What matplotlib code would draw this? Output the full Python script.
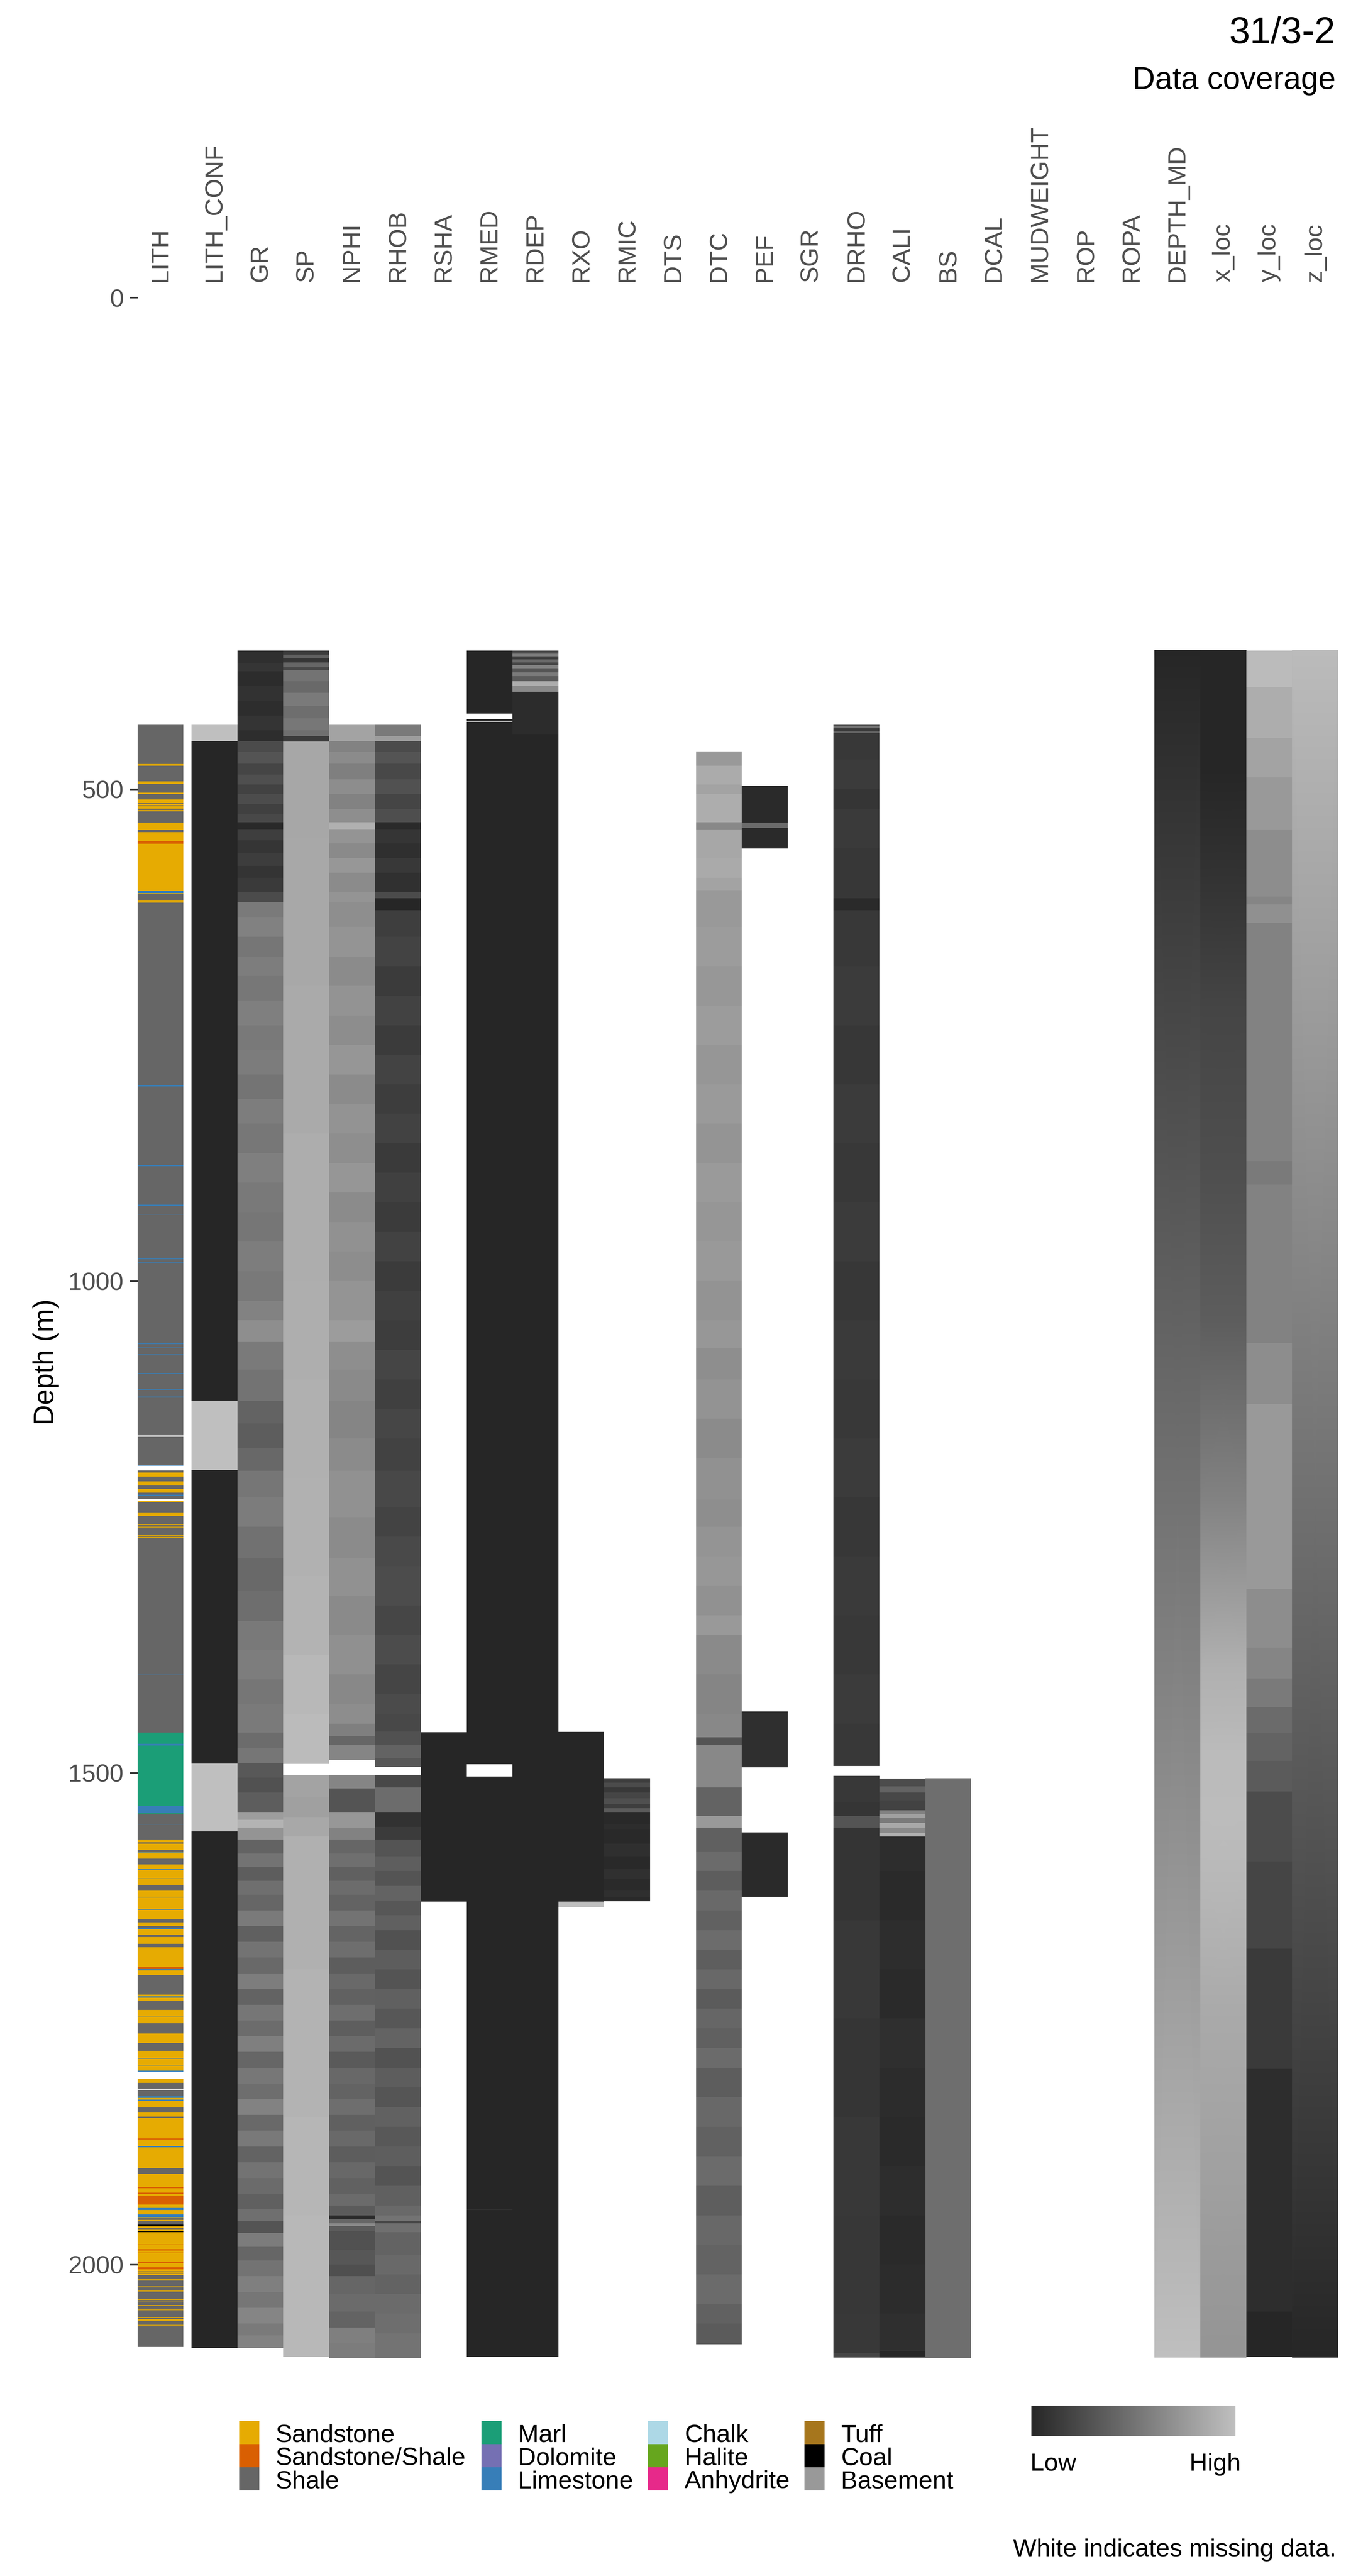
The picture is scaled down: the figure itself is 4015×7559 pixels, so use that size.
import numpy as np
import matplotlib
matplotlib.use("Agg")
import matplotlib.pyplot as plt
from matplotlib.colors import LinearSegmentedColormap, ListedColormap, Normalize
from matplotlib.cm import ScalarMappable
from matplotlib.patches import Rectangle

plt.rcParams['font.family'] = ['Liberation Sans', 'DejaVu Sans']

nan = np.nan
W, H, DPI = 4015, 7559, 300

# ---------------- data ----------------
log_names = ["LITH_CONF", "GR", "SP", "NPHI", "RHOB", "RSHA", "RMED", "RDEP", "RXO",
             "RMIC", "DTS", "DTC", "PEF", "SGR", "DRHO", "CALI", "BS", "DCAL",
             "MUDWEIGHT", "ROP", "ROPA", "DEPTH_MD", "x_loc", "y_loc", "z_loc"]

lith_classes = ["Sandstone", "Sandstone/Shale", "Shale", "Marl", "Dolomite", "Limestone",
                "Chalk", "Halite", "Anhydrite", "Tuff", "Coal", "Basement"]
lith_colors = ["#E6AB02", "#D95F02", "#666666", "#1B9E77", "#7570B3", "#377EB8",
               "#ADD8E6", "#66A61E", "#E7298A", "#A6761D", "#000000", "#999999"]
lith_abbr = {"SS": 0, "SSS": 1, "SH": 2, "MA": 3, "DO": 4, "LS": 5, "CK": 6,
             "HA": 7, "AN": 8, "TU": 9, "CO": 10, "BA": 11, None: nan}

# LITH intervals: (top depth, class); each runs to the next top
lith = [(434.0, "SH"), (474.3, "SS"), (476.1, "SH"), (492.0, "SS"), (494.5, "SH"), (503.6, "SS"),
        (504.7, "SH"), (510.4, "SS"), (514.3, "SH"), (515.0, "SS"), (516.4, "SH"), (517.4, "SS"),
        (519.9, "SH"), (521.3, "SS"), (522.7, "SH"), (534.0, "SS"), (541.1, "SH"), (543.6, "SS"),
        (552.8, "SSS"), (555.6, "SS"), (603.4, "LS"), (605.8, "SS"), (606.9, "SH"), (612.6, "SS"),
        (615.4, "SH"), (801.0, "LS"), (802.0, "SH"), (882.3, "LS"), (883.3, "SH"), (922.5, "LS"),
        (923.5, "SH"), (931.6, "LS"), (932.6, "SH"), (977.2, "LS"), (978.0, "SH"), (980.6, "LS"),
        (981.4, "SH"), (1063.5, "LS"), (1064.3, "SH"), (1067.6, "LS"), (1068.4, "SH"), (1074.6, "LS"),
        (1075.4, "SH"), (1093.7, "LS"), (1094.5, "SH"), (1109.7, "LS"), (1110.5, "SH"), (1117.6, "LS"),
        (1118.4, "SH"), (1157.0, None), (1158.5, "SH"), (1187.0, "LS"), (1188.0, None), (1192.6, "SH"),
        (1194.8, "SS"), (1199.0, "SH"), (1203.8, "SS"), (1207.9, "SH"), (1211.4, "SS"), (1215.2, "SH"),
        (1217.2, "LS"), (1218.6, "SH"), (1221.5, None), (1224.0, "SS"), (1225.0, "SH"), (1235.3, "SS"),
        (1238.7, "SH"), (1247.3, "SS"), (1248.1, "SH"), (1249.8, "SS"), (1250.6, "SH"), (1258.5, "SS"),
        (1259.3, "SH"), (1260.3, "SS"), (1260.9, "SH"), (1400.3, "LS"), (1401.1, "SH"), (1459.0, "MA"),
        (1470.6, "LS"), (1472.3, "MA"), (1533.6, "LS"), (1540.5, "MA"), (1541.5, "SH"), (1552.0, "LS"),
        (1552.8, "SH"), (1567.9, "SS"), (1570.7, "SH"), (1572.1, "SS"), (1578.5, "SH"), (1580.3, "LS"),
        (1581.0, "SS"), (1587.3, "SH"), (1593.4, "SS"), (1598.0, "LS"), (1598.7, "SS"), (1607.5, "LS"),
        (1608.2, "SS"), (1613.9, "SH"), (1619.9, "SS"), (1626.2, "LS"), (1626.9, "SS"), (1638.6, "LS"),
        (1639.3, "SS"), (1649.2, "SH"), (1652.0, "SS"), (1656.0, "SH"), (1658.0, "LS"), (1659.0, "SS"),
        (1665.0, "SH"), (1667.0, "SS"), (1674.0, "SH"), (1677.5, "SS"), (1697.7, "SSS"), (1699.5, "LS"),
        (1700.9, "SS"), (1705.8, "SH"), (1725.6, "SS"), (1727.3, "LS"), (1728.6, "SS"), (1732.3, "SH"),
        (1741.2, "SS"), (1747.0, "LS"), (1747.8, "SS"), (1754.6, "SH"), (1765.2, "SS"), (1774.8, "SH"),
        (1782.9, "SS"), (1790.0, "LS"), (1790.8, "SS"), (1796.9, "LS"), (1797.7, "SS"), (1803.0, "LS"),
        (1804.1, None), (1811.2, "SS"), (1815.4, "SH"), (1821.8, None), (1822.5, "SH"), (1828.8, "LS"),
        (1830.5, "SS"), (1832.5, "LS"), (1833.3, "SS"), (1840.2, "SH"), (1845.5, "SS"), (1849.7, "SH"),
        (1850.7, "SS"), (1872.0, "SSS"), (1873.0, "SS"), (1879.8, "LS"), (1880.8, "SS"), (1902.0, "SH"),
        (1908.0, "SS"), (1921.5, "SSS"), (1922.5, "SS"), (1927.0, "SSS"), (1928.3, "SS"), (1930.4, "SSS"),
        (1939.2, "SS"), (1942.7, "LS"), (1944.5, "SS"), (1949.0, "LS"), (1951.9, "SS"), (1952.9, "SH"),
        (1954.7, "SS"), (1956.0, "SH"), (1959.5, "CO"), (1961.2, "SS"), (1962.6, "SH"), (1964.7, "SS"),
        (1965.7, "CO"), (1967.1, "SS"), (1979.6, "SSS"), (1980.3, "SS"), (1984.5, "SSS"), (1985.8, "SS"),
        (1987.8, "SSS"), (1988.3, "SS"), (1997.7, "SSS"), (1998.7, "SS"), (2002.9, "SSS"), (2003.7, "SS"),
        (2004.0, "SSS"), (2004.8, "SS"), (2007.0, "SH"), (2008.1, "SS"), (2008.9, "SH"), (2009.4, "SS"),
        (2010.8, "SH"), (2015.1, "SS"), (2016.2, "SH"), (2022.2, "SS"), (2023.1, "SH"), (2026.4, "SS"),
        (2027.0, "SH"), (2027.4, "SS"), (2028.1, "SH"), (2035.4, "SS"), (2036.0, "SH"), (2036.7, "SS"),
        (2037.4, "SH"), (2041.3, "SS"), (2041.9, "SH"), (2045.8, "SS"), (2046.4, "SH"), (2053.4, "SS"),
        (2054.1, "SH"), (2055.5, "SS"), (2057.2, "SH"), (2061.4, "SS"), (2062.0, "SH")]
lith_base = 2083.8

# Normalised log values (0 = low, 1 = high); (top depth, value), nan = missing
lith_conf = [(434, 1.0), (451, 0.0), (1121.6, 1.0), (1192.3, 0.0), (1490.8, 1.0), (1559.8, 0.0)]
lith_conf_base = 2085

gr = [(359, 0.06), (372, 0.10), (380, 0.04), (395, 0.08), (410, 0.05), (425, 0.09), (440, 0.05),
      (451, 0.24), (462, 0.30), (474, 0.20), (485, 0.27), (495, 0.18), (505, 0.25), (515, 0.17),
      (525, 0.22), (533.5, 0.02), (540.6, 0.16), (552, 0.10), (565, 0.15), (578, 0.09), (590, 0.13),
      (604.4, 0.24), (615, 0.55), (630, 0.59), (650, 0.52), (670, 0.57), (690, 0.53), (715, 0.58),
      (740, 0.54), (765, 0.56), (790, 0.51), (815, 0.57), (840, 0.53), (870, 0.58), (900, 0.54),
      (930, 0.52), (960, 0.57), (990, 0.54), (1020, 0.60), (1040, 0.68), (1062, 0.55), (1090, 0.50),
      (1122, 0.40), (1145, 0.36), (1170, 0.43), (1193, 0.52), (1220, 0.56), (1250, 0.49), (1282, 0.44),
      (1315, 0.47), (1346, 0.54), (1375, 0.57), (1405, 0.52), (1430, 0.55), (1459, 0.46), (1475, 0.52),
      (1490, 0.33), (1505, 0.28), (1520, 0.36), (1540, 0.78), (1548, 0.92), (1556, 0.72), (1568, 0.40),
      (1582, 0.50), (1596, 0.36), (1610, 0.48), (1624, 0.42), (1640, 0.55), (1656, 0.38), (1672, 0.50),
      (1688, 0.44), (1704, 0.57), (1720, 0.40), (1736, 0.52), (1752, 0.46), (1768, 0.58), (1784, 0.42),
      (1800, 0.53), (1816, 0.47), (1832, 0.60), (1848, 0.44), (1864, 0.54), (1880, 0.40), (1896, 0.50),
      (1912, 0.45), (1928, 0.38), (1944, 0.48), (1956, 0.30), (1968, 0.56), (1982, 0.42), (1996, 0.50),
      (2012, 0.58), (2028, 0.52), (2044, 0.62), (2060, 0.55), (2072, 0.60)]
gr_base = 2085

sp = [(359, 0.15), (363, 0.38), (367, 0.10), (371, 0.42), (376, 0.22), (379, 0.50), (390, 0.44),
      (402, 0.55), (415, 0.47), (428, 0.53), (440, 0.48), (446, 0.14), (451.5, 0.84), (550, 0.85),
      (700, 0.86), (850, 0.88), (1000, 0.89), (1100, 0.90), (1200, 0.91), (1300, 0.92), (1380, 0.95),
      (1440, 0.97), (1491, nan), (1502, 0.82), (1525, 0.80), (1545, 0.85), (1565, 0.90), (1700, 0.92),
      (1850, 0.94), (1950, 0.95)]
sp_base = 2094

nphi = [(434, 0.82), (451, 0.60), (462, 0.66), (474, 0.58), (490, 0.67), (505, 0.60), (520, 0.68),
        (533.5, 0.90), (540.6, 0.72), (555, 0.65), (570, 0.74), (585, 0.66), (604.4, 0.72), (615, 0.68),
        (640, 0.72), (670, 0.66), (700, 0.71), (730, 0.67), (760, 0.73), (790, 0.66), (820, 0.71),
        (850, 0.68), (880, 0.73), (910, 0.66), (940, 0.70), (970, 0.67), (1000, 0.72), (1040, 0.77),
        (1062, 0.68), (1090, 0.65), (1122, 0.62), (1160, 0.66), (1193, 0.70), (1240, 0.66), (1282, 0.70),
        (1320, 0.65), (1360, 0.69), (1400, 0.64), (1430, 0.67), (1450, 0.58), (1463, 0.42), (1472, 0.62),
        (1487, nan), (1502, 0.62), (1516, 0.30), (1540, 0.74), (1556, 0.60), (1568, 0.42), (1582, 0.48),
        (1596, 0.38), (1610, 0.46), (1624, 0.40), (1640, 0.50), (1656, 0.41), (1672, 0.47), (1688, 0.36),
        (1704, 0.44), (1720, 0.39), (1736, 0.47), (1752, 0.37), (1768, 0.45), (1784, 0.34), (1800, 0.43),
        (1816, 0.40), (1832, 0.47), (1848, 0.38), (1864, 0.44), (1880, 0.36), (1896, 0.43), (1912, 0.39),
        (1928, 0.45), (1940, 0.35), (1950, 0.03), (1953.5, 0.42), (1958, 0.65), (1961, 0.35), (1966, 0.28),
        (1985, 0.32), (2000, 0.27), (2012, 0.42), (2030, 0.45), (2048, 0.40), (2064, 0.58), (2080, 0.56)]
nphi_base = 2095

rhob = [(434, 0.55), (446, 0.78), (451, 0.24), (462, 0.30), (474, 0.22), (490, 0.28), (505, 0.20),
        (520, 0.26), (533.5, 0.03), (540.6, 0.10), (555, 0.06), (570, 0.12), (585, 0.07), (604.4, 0.24),
        (611, 0.0), (623, 0.16), (650, 0.19), (680, 0.14), (710, 0.18), (740, 0.14), (770, 0.19),
        (800, 0.15), (830, 0.18), (860, 0.13), (890, 0.17), (920, 0.14), (950, 0.18), (980, 0.14),
        (1010, 0.17), (1040, 0.15), (1070, 0.20), (1100, 0.17), (1130, 0.21), (1160, 0.18), (1193, 0.22),
        (1230, 0.19), (1260, 0.23), (1290, 0.25), (1330, 0.21), (1360, 0.25), (1390, 0.20), (1420, 0.24),
        (1440, 0.22), (1458, 0.28), (1472, 0.40), (1485, 0.32), (1494, nan), (1502, 0.22), (1515, 0.46),
        (1540, 0.08), (1555, 0.14), (1568, 0.30), (1585, 0.37), (1600, 0.30), (1615, 0.40), (1630, 0.32),
        (1645, 0.38), (1660, 0.28), (1680, 0.36), (1700, 0.30), (1720, 0.38), (1740, 0.32), (1760, 0.40),
        (1780, 0.29), (1800, 0.36), (1820, 0.31), (1840, 0.39), (1860, 0.33), (1880, 0.37), (1900, 0.30),
        (1920, 0.38), (1940, 0.44), (1950, 0.50), (1956, 0.20), (1958, 0.48), (1967, 0.40), (1990, 0.44),
        (2010, 0.40), (2030, 0.45), (2050, 0.47), (2070, 0.50)]
rhob_base = 2095

rsha = [(1458.8, 0.0)]
rsha_base = 1631

rmed = [(359, 0.02), (361, 0.0), (423, nan), (428.5, 0.0), (430.5, nan), (431.5, 0.0),
        (1491.5, nan), (1504, 0.0), (1944, 0.08), (1944.7, 0.0)]
rmed_base = 2094

rdep = [(359, 0.25), (362, 0.55), (365, 0.15), (368, 0.45), (371, 0.20), (374, 0.60), (377, 0.30),
        (381, 0.55), (385, 0.35), (390, 0.88), (395, 0.65), (400.8, 0.04), (444, 0.0)]
rdep_base = 2094

rxo = [(1458.4, 0.0), (1631, 1.0)]
rxo_base = 1636.6

rmic = [(1505.6, 0.15), (1510, 0.24), (1515, 0.12), (1520, 0.20), (1526, 0.27), (1532, 0.16),
        (1536, 0.35), (1540, 0.02), (1552, 0.05), (1558, 0.02), (1572, 0.06), (1585, 0.02),
        (1598, 0.07), (1608, 0.03), (1620, 0.06), (1626, 0.02)]
rmic_base = 1630.7

dtc = [(461.5, 0.75), (476, 0.87), (495, 0.82), (505, 0.88), (533.5, 0.64), (541, 0.84), (570, 0.86),
       (590, 0.82), (602.5, 0.75), (640, 0.77), (680, 0.74), (720, 0.77), (760, 0.73), (800, 0.76),
       (840, 0.72), (880, 0.76), (920, 0.73), (960, 0.75), (1000, 0.71), (1040, 0.74), (1068, 0.68),
       (1100, 0.71), (1140, 0.66), (1180, 0.70), (1222, 0.68), (1250, 0.72), (1280, 0.74), (1310, 0.70),
       (1340, 0.75), (1360, 0.65), (1400, 0.62), (1440, 0.64), (1464, 0.30), (1472, 0.64), (1515, 0.40),
       (1544, 0.75), (1556, 0.38), (1580, 0.45), (1600, 0.36), (1620, 0.44), (1640, 0.39), (1660, 0.46),
       (1680, 0.37), (1700, 0.43), (1720, 0.35), (1740, 0.42), (1760, 0.38), (1780, 0.45), (1800, 0.36),
       (1830, 0.43), (1860, 0.39), (1890, 0.45), (1920, 0.37), (1950, 0.43), (1980, 0.40), (2010, 0.45),
       (2040, 0.39), (2060, 0.35)]
dtc_base = 2081

pef = [(496.6, 0.03), (534, 0.45), (539.6, 0.03), (560.3, nan), (1437.6, 0.06), (1494.5, nan),
       (1560.6, 0.03)]
pef_base = 1626

drho = [(433.8, 0.20), (436, 0.50), (438, 0.14), (441, 0.40), (443, 0.12), (470, 0.14), (500, 0.10),
        (520, 0.13), (560, 0.11), (611, 0.03), (623, 0.12), (680, 0.14), (740, 0.11), (800, 0.14),
        (860, 0.12), (920, 0.14), (980, 0.11), (1040, 0.13), (1100, 0.12), (1160, 0.14), (1220, 0.11),
        (1280, 0.13), (1340, 0.12), (1400, 0.14), (1450, 0.12), (1493, nan), (1503, 0.12), (1530, 0.10),
        (1544, 0.30), (1556, 0.09), (1650, 0.12), (1750, 0.10), (1850, 0.12), (1950, 0.11), (2050, 0.12),
        (2090, 0.20)]
drho_base = 2094.5

cali = [(1506, 0.25), (1514, 0.40), (1520, 0.22), (1528, 0.18), (1538, 0.60), (1542, 0.80),
        (1546, 0.55), (1551, 0.85), (1556, 0.65), (1561, 0.90), (1565, 0.05), (1600, 0.03),
        (1650, 0.05), (1700, 0.03), (1750, 0.06), (1800, 0.04), (1850, 0.03), (1900, 0.05),
        (1950, 0.03), (2000, 0.04), (2050, 0.06), (2088, 0.0)]
cali_base = 2094.5

bs = [(1505.5, 0.47)]
bs_base = 2095

y_loc = [(359, 0.97), (396, 0.88), (448, 0.82), (488, 0.75), (541, 0.67), (609, 0.62), (617, 0.69),
         (636, 0.60), (878, 0.55), (902, 0.60), (1063, 0.67), (1125, 0.75), (1313, 0.67), (1373, 0.62),
         (1404, 0.55), (1433, 0.45), (1460, 0.40), (1488, 0.35), (1519, 0.25), (1590, 0.20),
         (1679, 0.13), (1801, 0.05), (2048, 0.0)]
y_loc_base = 2094

# smoothly varying logs: readings (depth, value)
depth_md_pts = [(358.6, 0.0), (2094.5, 1.0)]
x_loc_pts = [(358.6, 0.0), (480, 0.0), (608, 0.10), (723, 0.20), (896, 0.27), (1040, 0.36),
             (1222, 0.60), (1394, 0.90), (1480, 0.97), (1540, 0.98), (1596, 0.96), (1739, 0.86),
             (1912, 0.80), (2094.5, 0.72)]
z_loc_pts = [(358.6, 0.97), (2094.5, 0.0)]

step_logs = {"LITH_CONF": (lith_conf, lith_conf_base), "GR": (gr, gr_base), "SP": (sp, sp_base),
             "NPHI": (nphi, nphi_base), "RHOB": (rhob, rhob_base), "RSHA": (rsha, rsha_base),
             "RMED": (rmed, rmed_base), "RDEP": (rdep, rdep_base), "RXO": (rxo, rxo_base),
             "RMIC": (rmic, rmic_base), "DTC": (dtc, dtc_base), "PEF": (pef, pef_base),
             "DRHO": (drho, drho_base), "CALI": (cali, cali_base), "BS": (bs, bs_base),
             "y_loc": (y_loc, y_loc_base)}
smooth_logs = {"DEPTH_MD": depth_md_pts, "x_loc": x_loc_pts, "z_loc": z_loc_pts}

depth_ticks = [0, 500, 1000, 1500, 2000]
depth_max = 2095

# ---------------- figure ----------------
fig = plt.figure(figsize=(W / DPI, H / DPI), dpi=DPI, facecolor="white")

def fx(px):
    return px / W

def fy(py):
    return 1 - py / H

panel_top, panel_bot = 873, 6919
ax_l = fig.add_axes([fx(404), fy(panel_bot), fx(538 - 404), (panel_bot - panel_top) / H])
ax_m = fig.add_axes([fx(562), fy(panel_bot), fx(3927 - 562), (panel_bot - panel_top) / H])

grey_cmap = LinearSegmentedColormap.from_list("g", ["#262626", "#BFBFBF"])
lith_cmap = ListedColormap(lith_colors)

# LITH panel
l_tops = [t for t, _ in lith]
l_codes = np.array([lith_abbr[c] for _, c in lith], float)
ax_l.pcolormesh([0, 1], np.array(l_tops + [lith_base]),
                np.ma.masked_invalid(l_codes[:, None]), cmap=lith_cmap,
                vmin=-0.5, vmax=len(lith_classes) - 0.5, shading="flat",
                edgecolors="none", antialiased=False)

# log panel
for i, name in enumerate(log_names):
    if name in step_logs:
        rows, base = step_logs[name]
        tops = [t for t, _ in rows]
        vals = np.array([v for _, v in rows], float)
        ax_m.pcolormesh([i, i + 1], np.array(tops + [base], float),
                        np.ma.masked_invalid(vals[:, None]), cmap=grey_cmap,
                        vmin=0, vmax=1, shading="flat", edgecolors="none",
                        antialiased=False)
    elif name in smooth_logs:
        pts = smooth_logs[name]
        d = np.array([p[0] for p in pts], float)
        v = np.array([p[1] for p in pts], float)
        X = np.column_stack([np.full_like(d, i), np.full_like(d, i + 1)])
        Y = np.column_stack([d, d])
        C = np.column_stack([v, v])
        ax_m.pcolormesh(X, Y, C, cmap=grey_cmap, vmin=0, vmax=1, shading="gouraud")

for ax, labels in ((ax_l, ["LITH"]), (ax_m, log_names)):
    ax.set_xlim(0, len(labels))
    ax.set_ylim(depth_max, 0)
    for s in ax.spines.values():
        s.set_visible(False)
    ax.xaxis.tick_top()
    ax.set_xticks(np.arange(len(labels)) + 0.5)
    ax.set_xticklabels(labels)
    ax.tick_params(axis="x", length=0, pad=11, labelsize=17.6, labelcolor="#4D4D4D",
                   labelrotation=90)
    ax.set_facecolor("white")

ax_m.set_yticks([])
ax_l.set_yticks(depth_ticks)
ax_l.set_yticklabels([str(t) for t in depth_ticks])
ax_l.tick_params(axis="y", length=5.5, width=1.1, color="#333333", pad=4.4,
                 labelsize=17.6, labelcolor="#4D4D4D")

# titles
fig.text(fx(3920), fy(127), "31/3-2", ha="right", va="baseline", fontsize=26.4, color="black")
fig.text(fx(3920), fy(261), "Data coverage", ha="right", va="baseline", fontsize=22, color="black")
fig.text(fx(135), fy(3997), "Depth (m)", rotation=90, ha="center", va="center",
         fontsize=20, color="black")

# lithology legend (4 columns x 3 rows, filled column-wise)
key_x = [702, 1413, 1902, 2361]
key_y = [7104, 7172, 7240]
key_w, key_h = 59, 68
for k, (lab, col) in enumerate(zip(lith_classes, lith_colors)):
    c, r = divmod(k, 3)
    x0, y0 = key_x[c], key_y[r]
    fig.add_artist(Rectangle((fx(x0), fy(y0 + key_h)), key_w / W, key_h / H,
                             transform=fig.transFigure, facecolor=col, edgecolor="none"))
    fig.text(fx(x0 + 107), fy(y0 + key_h / 2 + 27), lab, ha="left", va="baseline",
             fontsize=17.6, color="black")

# colour bar
cax = fig.add_axes([fx(3027), fy(7149), 599 / W, 90 / H])
cb = fig.colorbar(ScalarMappable(norm=Normalize(0, 1), cmap=grey_cmap), cax=cax,
                  orientation="horizontal")
cb.outline.set_visible(False)
cb.set_ticks([])
fig.text(fx(3091), fy(7250), "Low", ha="center", va="baseline", fontsize=17.6, color="black")
fig.text(fx(3566), fy(7250), "High", ha="center", va="baseline", fontsize=17.6, color="black")

fig.text(fx(3922), fy(7501), "White indicates missing data.", ha="right", va="baseline",
         fontsize=17.6, color="black")

fig.savefig("out.png", dpi=DPI, facecolor="white")
